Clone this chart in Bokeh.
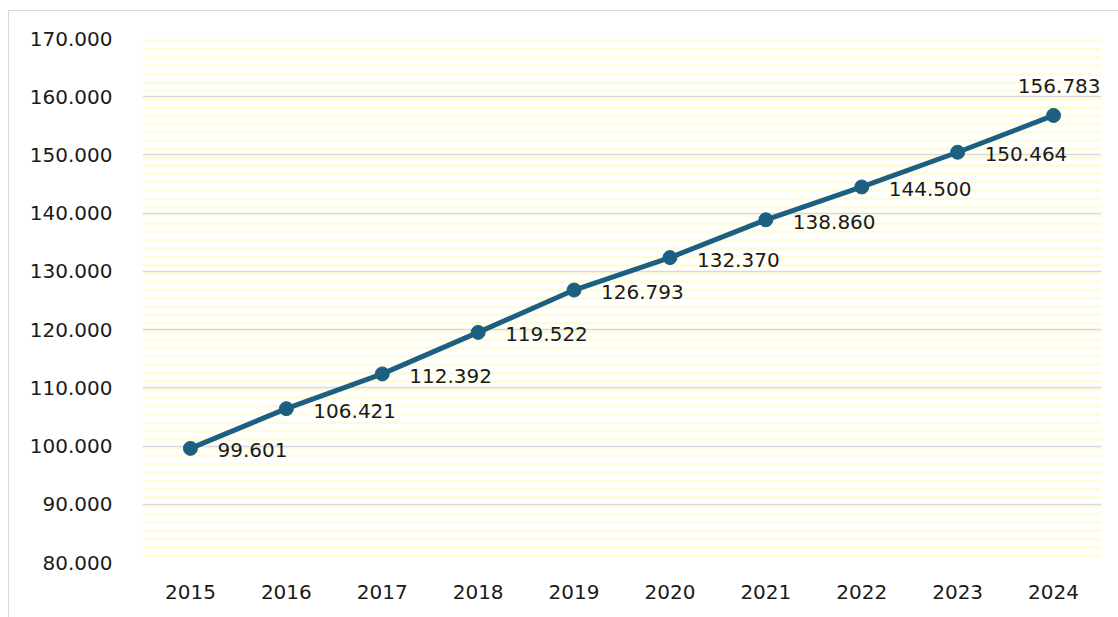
from bokeh.plotting import figure
from bokeh.models import BoxAnnotation, ColumnDataSource, LabelSet, FixedTicker, NumeralTickFormatter
from bokeh.core.properties import value
from bokeh.embed import file_html
from bokeh.resources import INLINE

years = ["2015", "2016", "2017", "2018", "2019", "2020", "2021", "2022", "2023", "2024"]
values = [99.601, 106.421, 112.392, 119.522, 126.793, 132.370, 138.860, 144.500, 150.464, 156.783]
y_ticks = [80, 90, 100, 110, 120, 130, 140, 150, 160, 170]

FONT = "DejaVu Sans"
COLOR = "#1d5f81"

p = figure(width=1110, height=607, x_range=years, y_range=(80, 170),
           output_backend="svg", toolbar_location=None,
           min_border_left=133, min_border_right=18, min_border_top=27, min_border_bottom=56)
p.outline_line_color = None
p.border_fill_color = "white"
p.background_fill_color = "white"
p.styles = {"border": "1.5px solid #d9d9d9", "border-right": "none", "border-bottom": "none",
            "margin-left": "8px", "margin-top": "10px"}

stripes = BoxAnnotation(fill_alpha=0, line_alpha=0, hatch_pattern="horizontal_line",
                        hatch_scale=8.3, hatch_weight=3, hatch_color="#fefcdc", level="image")
p.add_layout(stripes)

src = ColumnDataSource(dict(x=years, y=values))
p.line("x", "y", source=src, line_color=COLOR, line_width=5)
p.scatter("x", "y", source=src, size=14, fill_color=COLOR, line_color=COLOR)

lab_src = ColumnDataSource(dict(x=years[:-1], y=values[:-1], lab=[f"{v:.3f}" for v in values[:-1]]))
p.add_layout(LabelSet(x="x", y="y", text="lab", source=lab_src, x_offset=27, y_offset=-2,
                      text_align="left", text_baseline="middle", text_font=value(FONT),
                      text_font_size="20px", text_color="#1a1a1a"))
last_src = ColumnDataSource(dict(x=years[-1:], y=values[-1:], lab=[f"{values[-1]:.3f}"]))
p.add_layout(LabelSet(x="x", y="y", text="lab", source=last_src, x_offset=47, y_offset=29,
                      text_align="right", text_baseline="middle", text_font=value(FONT),
                      text_font_size="20px", text_color="#1a1a1a"))

p.yaxis.ticker = FixedTicker(ticks=y_ticks)
p.yaxis.formatter = NumeralTickFormatter(format="0.000")
for ax in (p.xaxis, p.yaxis):
    ax.axis_line_color = None
    ax.major_tick_line_color = None
    ax.minor_tick_line_color = None
    ax.major_label_text_font = FONT
    ax.major_label_text_font_size = "20px"
    ax.major_label_text_color = "#1a1a1a"
p.yaxis.major_label_standoff = 24
p.xaxis.major_label_standoff = 16

p.xgrid.grid_line_color = None
p.ygrid.ticker = FixedTicker(ticks=y_ticks)
p.ygrid.grid_line_color = "#d9d9d9"
p.ygrid.grid_line_width = 1.5

open("out.html", "w").write(file_html(p, INLINE))
